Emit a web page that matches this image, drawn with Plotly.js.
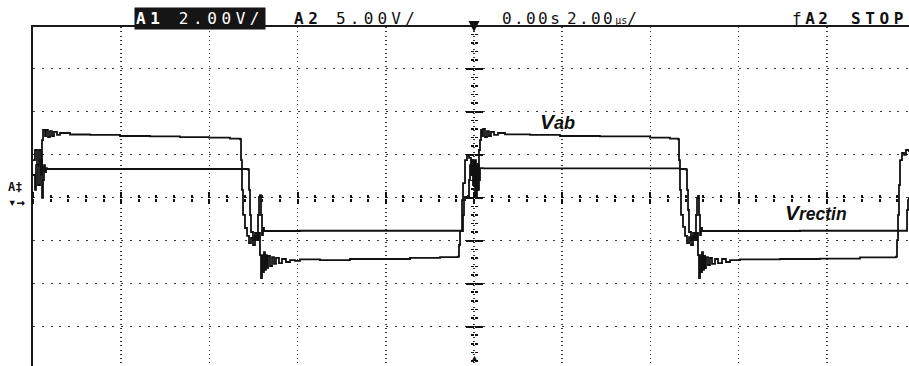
<!DOCTYPE html>
<html><head><meta charset="utf-8">
<script src="https://cdn.plot.ly/plotly-3.0.1.min.js"></script>
<style>html,body{margin:0;padding:0;background:#fff;}#chart{width:909px;height:366px;}</style>
</head><body><div id="chart"></div>
<script>
// Time in microseconds, voltages in volts
const timeVab = [-10.000,-9.955,-9.909,-9.864,-9.819,-9.796,-9.773,-9.728,-9.705,-9.660,-9.615,-9.569,-9.524,-9.456,-9.388,-9.161,-8.707,-8.027,-7.347,-6.667,-6.009,-5.533,-5.306,
 -5.283,-5.261,-5.238,-5.193,-5.147,-5.102,-5.057,-5.011,-4.966,-4.921,-4.875,-4.853,-4.830,-4.807,-4.785,-4.762,-4.739,-4.717,-4.694,-4.671,-4.626,-4.580,-4.535,-4.490,-4.422,-4.354,-4.263,-4.172,-4.059,-3.946,
 -3.492,-2.812,-2.132,-1.451,-0.771,-0.363,
 -0.340,-0.317,-0.272,-0.249,-0.204,-0.159,-0.113,-0.068,-0.045,0.000,0.023,0.045,0.068,0.091,0.113,0.136,0.159,0.181,0.204,0.249,0.295,0.340,0.385,0.454,0.544,0.703,
 1.270,1.950,2.857,3.991,4.444,4.626,
 4.649,4.671,4.694,4.739,4.785,4.830,4.875,4.921,4.966,5.011,5.057,5.079,5.102,5.125,5.147,5.170,5.193,5.215,5.238,5.261,5.306,5.351,5.397,5.465,5.533,5.624,5.714,5.805,6.032,
 6.939,7.846,8.753,9.569,
 9.592,9.615,9.637,9.660,9.705,9.751,9.796,9.864];
const vab = [1.75,2.22,1.52,2.22,1.06,2.68,3.15,2.87,3.15,2.82,3.10,2.87,3.06,2.92,3.01,2.94,2.92,2.87,2.85,2.82,2.79,2.75,2.72,
 1.75,0.36,-0.80,-1.41,-1.78,-2.11,-1.87,-2.20,-1.78,-1.97,-1.64,-2.67,-3.74,-2.67,-3.46,-2.53,-3.36,-2.67,-3.27,-2.71,-3.18,-2.76,-3.08,-2.80,-3.04,-2.85,-2.99,-2.90,-2.94,-2.87,
 -2.90,-2.85,-2.85,-2.80,-2.76,-2.74,
 -2.20,-1.55,-0.11,0.68,1.75,1.99,1.85,1.29,1.75,0.59,1.75,0.03,1.52,0.36,2.22,2.68,3.15,2.87,3.20,2.82,3.10,2.87,3.06,2.92,3.01,2.95,
 2.92,2.87,2.85,2.79,2.75,2.72,
 1.75,0.36,-0.80,-1.36,-1.78,-2.11,-1.83,-2.20,-1.78,-1.97,-1.64,-2.67,-3.74,-2.67,-3.46,-2.53,-3.36,-2.71,-3.27,-2.76,-3.13,-2.80,-3.08,-2.85,-3.04,-2.85,-2.99,-2.90,-2.87,
 -2.85,-2.83,-2.78,-2.74,
 -1.97,-0.80,0.59,1.75,2.08,1.99,2.22,2.13];

const timeVrect = [-10.000,-9.955,-9.932,-9.887,-9.841,-9.796,-9.773,-9.751,-9.728,-9.705,-9.683,
 -8.027,-6.213,-5.193,
 -5.125,-5.102,-5.079,-5.057,-5.011,-4.966,-4.921,-4.898,-4.875,-4.853,-4.830,-4.807,-4.785,-4.762,
 -3.946,-1.678,-0.272,
 -0.249,-0.227,-0.204,-0.136,-0.113,-0.091,-0.068,-0.045,-0.023,0.000,0.023,0.045,0.068,0.091,0.113,0.136,0.204,
 1.950,4.671,4.807,
 4.830,4.853,4.875,4.921,4.966,5.011,5.034,5.057,5.079,5.102,5.125,5.147,5.170,
 7.392,9.796,
 9.819,9.841,9.864];
const vrect = [2.64,0.90,3.80,1.48,4.38,-0.03,2.06,3.80,2.99,3.45,3.34,
 3.34,3.34,3.34,
 3.28,0.90,-2.01,-3.99,-4.92,-4.10,-4.69,-2.01,0.08,0.31,-2.01,-4.34,-3.52,-3.87,
 -3.84,-3.84,-3.87,
 -2.01,-0.27,0.08,0.20,2.06,3.80,2.64,4.38,1.48,3.80,0.08,2.64,0.90,3.80,2.06,3.45,3.40,
 3.40,3.34,3.28,
 0.90,-1.43,-3.99,-4.92,-4.10,-4.69,-2.01,-0.03,0.20,-2.01,-4.34,-3.52,-3.87,
 -3.84,-3.84,
 -1.43,-0.27,0.08];

// Scope settings
const voltsPerDivA1 = 2;   // A1 2.00V/
const voltsPerDivA2 = 5;   // A2 5.00V/
const timePerDiv = 2;      // 2.00 µs/
const headerItems = ['A1', '2.00V/', 'A2', '5.00V/', '0.00s', '2.00', 'µs', '/', 'ƒ', 'A2', 'STOP'];

// visible screen window in divisions (screen cropped on right and bottom)
const divLeft = -5, divRight = 4.932, divBottom = -3.914, divTop = 3.97;
const xr = [divLeft*timePerDiv, divRight*timePerDiv];
const y1r = [divBottom*voltsPerDivA1, divTop*voltsPerDivA1];
const y2r = [divBottom*voltsPerDivA2, divTop*voltsPerDivA2];
const posY0 = -divBottom/(divTop-divBottom);
const posX0 = -divLeft/(divRight-divLeft);

const ink = '#111';
const lineStyle = {shape:'hv', color: ink, width: 1.8};
const traces = [
  {x: timeVab, y: vab, xaxis:'x', yaxis:'y', mode:'lines', line: lineStyle, name:'Vab', hoverinfo:'skip'},
  {x: timeVrect, y: vrect, xaxis:'x', yaxis:'y2', mode:'lines', line: lineStyle, name:'Vrectin', hoverinfo:'skip'},
  {x:[0], y:[null], xaxis:'x2', yaxis:'y', mode:'lines', hoverinfo:'skip'},
  {x:[0], y:[null], xaxis:'x3', yaxis:'y', mode:'lines', hoverinfo:'skip'},
  {x:[0], y:[null], xaxis:'x', yaxis:'y3', mode:'lines', hoverinfo:'skip'},
  {x:[0], y:[null], xaxis:'x', yaxis:'y4', mode:'lines', hoverinfo:'skip'}
];

const hidden = {showgrid:false, zeroline:false, showline:false, showticklabels:false, fixedrange:true};
function centerX(side){
  return Object.assign({}, hidden, {range: xr, overlaying:'x', anchor:'free', position: posY0, side: side,
    ticks:'outside', ticklen:5.5, tickwidth:2, tickcolor: ink, tick0:0, dtick: timePerDiv,
    minor:{tick0:0, dtick: timePerDiv/5, ticks:'outside', ticklen:3, tickwidth:2, tickcolor: ink}});
}
function centerY(side){
  return Object.assign({}, hidden, {range: y1r, overlaying:'y', anchor:'free', position: posX0, side: side,
    ticks:'outside', ticklen:8, tickwidth:2, tickcolor: ink, tick0:0, dtick: voltsPerDivA1,
    minor:{tick0:0, dtick: voltsPerDivA1/5, ticks:'outside', ticklen:3, tickwidth:1.6, tickcolor: ink}});
}

const mono = 'DejaVu Sans Mono, monospace';
const sp = (s, ls) => '<span style="letter-spacing:' + (ls || 4.6) + 'px">' + s + '</span>';
const pxToT = px => (px - 474) / 44.1 ; // header placement helper (pixels -> µs)
const headY = (366-19)/339;
const H = headerItems;
const ann = [
  {text: sp('<b>'+H[0]+'</b> '+H[1]), x: pxToT(200), bgcolor:'#151515', font:{family:mono, size:16, color:'#fff'}, borderpad:1},
  {text: sp('<b>'+H[2]+'</b>'), x: pxToT(308), font:{family:mono, size:16, color:ink}},
  {text: sp(H[3], 4.2), x: pxToT(377), font:{family:mono, size:16, color:ink}},
  {text: sp(H[4], 2.4), x: pxToT(532), font:{family:mono, size:16, color:ink}},
  {text: sp(H[5], 2.4) + '<span style="font-size:10px">'+H[6]+'</span>' + H[7], x: pxToT(602), font:{family:mono, size:16, color:ink}},
  {text: sp(H[8]+'<b>'+H[9]+'</b>', 3.5), x: pxToT(811), font:{family:mono, size:16, color:ink}},
  {text: sp('<b>'+H[10]+'</b>'), x: pxToT(879), font:{family:mono, size:16, color:ink}}
].map(a => Object.assign({xref:'x', yref:'paper', y: headY, xanchor:'center', yanchor:'middle', showarrow:false}, a));

ann.push(
  // trigger position marker (arrow down to the top of the centre line)
  {text:' ', xref:'x', x:0, yref:'paper', y:(366-32)/339, showarrow:true, arrowhead:2, arrowsize:1.1, arrowwidth:2, arrowcolor:ink, ax:0, ay:-18},
  {text:'▲', xref:'x', x:0, yref:'paper', y:0, xanchor:'center', yanchor:'bottom', showarrow:false, font:{size:9, color:ink}},
  {text:'<b>A‡</b><br><span style="font-size:14px"><b>▾→</b></span>', xref:'paper', x:(6-33)/876, xanchor:'left', yref:'paper', y:(366-195)/339, yanchor:'middle', align:'left', showarrow:false, font:{family:mono, size:12, color:ink}},
  {text:'<b><i>V</i></b><span style="font-size:18px"><b><i>ab</i></b></span>', xref:'x', x:1.45, yref:'y', y:3.567, xanchor:'left', yanchor:'middle', showarrow:false, font:{family:'Liberation Sans, Arial', size:21, color:ink}},
  {text:'<b><i>V</i></b><span style="font-size:17.5px"><b><i>rectin</i></b></span>', xref:'x', x:7.0, yref:'y', y:-0.698, xanchor:'left', yanchor:'middle', showarrow:false, font:{family:'Liberation Sans, Arial', size:21, color:ink}}
);

const layout = {
  width: 909, height: 366,
  margin: {l:33, r:0, t:27, b:0, pad:0},
  paper_bgcolor:'#fff', plot_bgcolor:'#fff',
  showlegend:false,
  xaxis: {range: xr, tick0:0, dtick: timePerDiv, showgrid:true, gridcolor:'#3a3a3a', gridwidth:1.5, griddash:'1px,3.3px',
          zeroline:false, showline:true, side:'top', linecolor:'#1a1a1a', linewidth:2, ticks:'', showticklabels:false, fixedrange:true},
  yaxis: {range: y1r, tick0:0, dtick: voltsPerDivA1, showgrid:true, gridcolor:'#3a3a3a', gridwidth:1.3, griddash:'2px,6.82px',
          zeroline:false, showline:true, linecolor:'#1a1a1a', linewidth:2, ticks:'', showticklabels:false, fixedrange:true},
  yaxis2: Object.assign({}, hidden, {range: y2r, overlaying:'y', side:'right', ticks:''}),
  xaxis2: centerX('bottom'),
  xaxis3: centerX('top'),
  yaxis3: centerY('left'),
  yaxis4: centerY('right'),
  annotations: ann
};

Plotly.newPlot('chart', traces, layout, {staticPlot:true, displayModeBar:false});
</script>
</body></html>
